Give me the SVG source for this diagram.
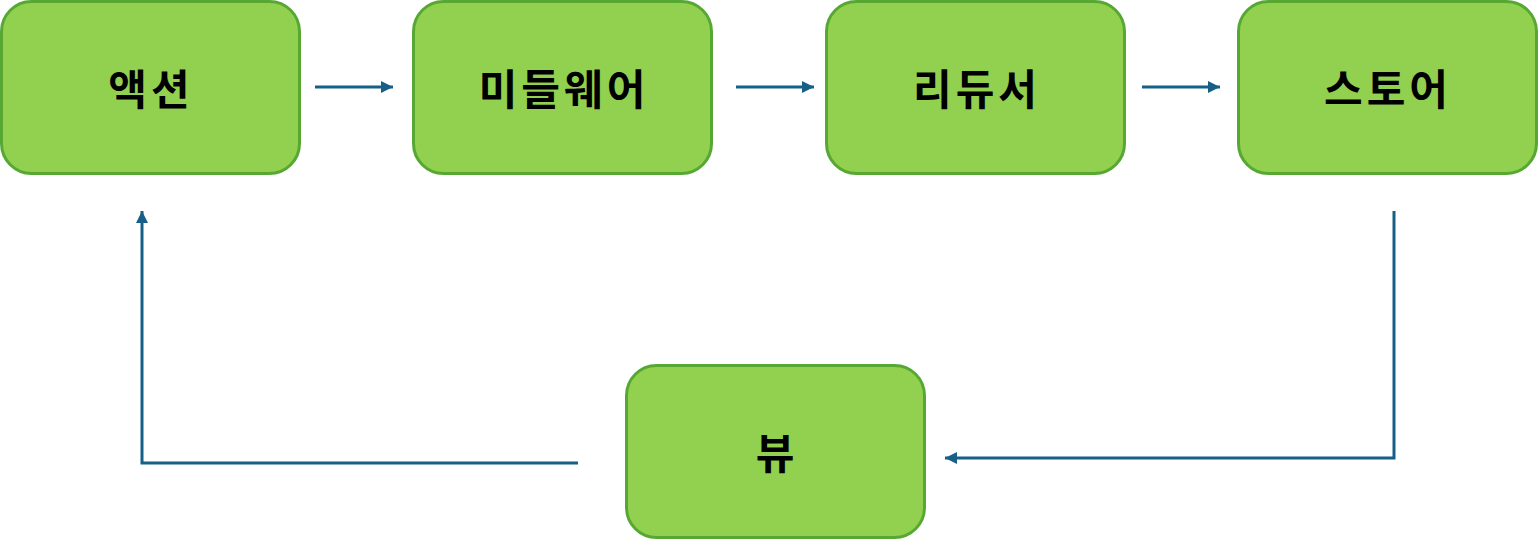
<svg xmlns="http://www.w3.org/2000/svg" width="1538" height="539" viewBox="0 0 1538 539">
<style>
.box{fill:#92d050;stroke:#56a832;stroke-width:3}
.lbl{font-family:"Noto Sans CJK KR","Noto Sans",sans-serif;font-weight:bold;font-size:42px;letter-spacing:4px;fill:#000;text-anchor:middle;dominant-baseline:central}
.con{stroke:#175f86;stroke-width:3;fill:none}
</style>
<defs>
<marker id="ah" viewBox="0 0 10 10" refX="10" refY="5" markerWidth="4" markerHeight="4" markerUnits="strokeWidth" orient="auto">
<path d="M0,0 L10,5 L0,10 z" fill="#175f86"/>
</marker>
</defs>
<rect width="1538" height="539" fill="#fff"/>
<g id="action"><rect class="box" x="1.5" y="1.5" width="298" height="172" rx="30"/><text class="lbl" x="151" y="86">액션</text></g>
<g id="middleware"><rect class="box" x="413.5" y="1.5" width="298" height="172" rx="30"/><text class="lbl" x="564" y="86">미들웨어</text></g>
<g id="reducer"><rect class="box" x="826.5" y="1.5" width="298" height="172" rx="30"/><text class="lbl" x="977" y="86">리듀서</text></g>
<g id="store"><rect class="box" x="1238.5" y="1.5" width="298" height="172" rx="30"/><text class="lbl" x="1388" y="86">스토어</text></g>
<g id="view"><rect class="box" x="626.5" y="365.5" width="298" height="172" rx="30"/><text class="lbl" x="777" y="450">뷰</text></g>
<g id="connectors">
<line class="con" x1="315" y1="87" x2="393" y2="87" marker-end="url(#ah)"/>
<line class="con" x1="736" y1="87" x2="814" y2="87" marker-end="url(#ah)"/>
<line class="con" x1="1142" y1="87" x2="1220" y2="87" marker-end="url(#ah)"/>
<polyline class="con" points="1394,211 1394,458 945,458" marker-end="url(#ah)"/>
<polyline class="con" points="578,463 142,463 142,211" marker-end="url(#ah)"/>
</g>
</svg>
